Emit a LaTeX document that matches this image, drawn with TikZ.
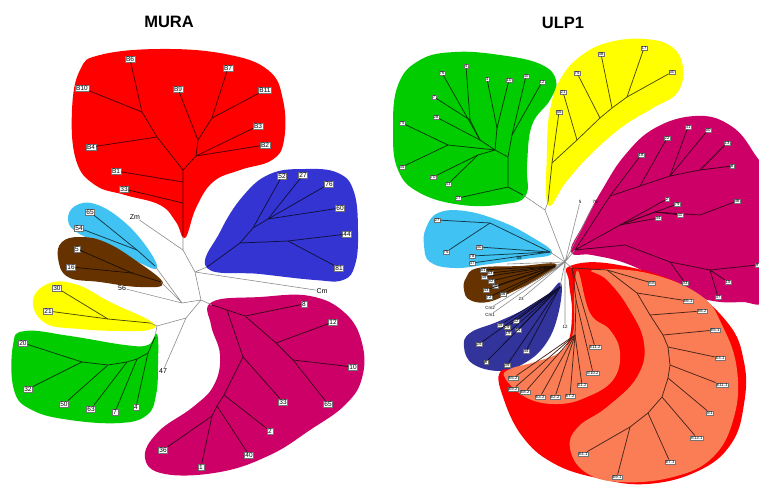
\documentclass[tikz,border=0pt]{standalone}
\usepackage{fontspec}
\setmainfont{Liberation Sans}
\usetikzlibrary{positioning}
\definecolor{cladered}{HTML}{FE0000}
\definecolor{cladeblue}{HTML}{3434D2}
\definecolor{cladenavy}{HTML}{33339C}
\definecolor{cladepink}{HTML}{CC0066}
\definecolor{cladecyan}{HTML}{40C2F2}
\definecolor{cladebrown}{HTML}{663300}
\definecolor{cladeyellow}{HTML}{FFFF00}
\definecolor{cladegreen}{HTML}{00CC00}
\definecolor{cladesalmon}{HTML}{FA7D55}

\begin{document}
\begin{tikzpicture}[x=1pt,y=-1pt,
  tag/.style={draw=black!55,line width=0.3pt,fill=white,inner sep=1pt,font=\fontsize{6.5}{6.5}\selectfont},
  microtag/.style={tag,inner sep=0.8pt,font=\fontsize{4.3}{4.3}\selectfont},
  txt/.style={inner sep=0.5pt,font=\fontsize{7}{7}\selectfont},
  microtxt/.style={inner sep=0.3pt,font=\fontsize{4.5}{4.5}\selectfont},
  br/.style={draw=#1!30!black,line width=0.75pt},
  stem/.style={draw=black!45,line width=0.6pt},
  ttl/.style={font=\bfseries\fontsize{16.5}{16.5}\selectfont}
]
\useasboundingbox (0,0) rectangle (759,484);
\clip (0,0) rectangle (759,484);

% titles
\node[ttl] (mura) at (169,22) {MURA};
\node[ttl] (ulp) at (563,23) {ULP1};

%% ---------------- MURA ----------------
% clades
\fill[cladered] plot[smooth cycle,tension=0.7] coordinates {(100,55) (160,49) (225,54) (268,70) (283,100) (284,140) (272,160) (240,170) (213,182) (196,208) (185,238) (176,222) (160,205) (125,195) (95,185) (76,160) (72,110) (80,70)};
\fill[cladeblue] plot[smooth cycle,tension=0.7] coordinates {(207,268) (220,232) (243,196) (270,174) (305,169) (338,173) (354,192) (358,232) (355,265) (343,280) (315,280) (260,274)};
\fill[cladecyan] plot[smooth cycle,tension=0.7] coordinates {(68,220) (75,206) (95,204) (122,220) (146,246) (157,268) (140,263) (108,246) (78,233)};
\fill[cladebrown] plot[smooth cycle,tension=0.7] coordinates {(58,258) (62,242) (80,237) (105,242) (135,260) (163,283) (140,287) (100,282) (68,277)};
\fill[cladeyellow] plot[smooth cycle,tension=0.7] coordinates {(33,300) (50,283) (78,285) (110,302) (152,322) (148,330) (120,331) (80,329) (45,323)};
\fill[cladegreen] plot[smooth cycle,tension=0.7] coordinates {(13,345) (25,331) (70,336) (125,345) (148,345) (157,334) (158,365) (156,395) (147,415) (120,423) (70,420) (32,410) (14,390)};
\fill[cladepink] plot[smooth cycle,tension=0.7] coordinates {(212,302) (260,297) (310,296) (345,313) (362,343) (362,378) (345,405) (310,430) (270,455) (220,472) (165,474) (145,458) (158,432) (193,407) (214,385) (220,355) (211,325)};

% inner nodes
\coordinate (r0) at (183,236); \coordinate (r1) at (183,203); \coordinate (r2) at (183,182);
\coordinate (r3) at (183,170); \coordinate (r4) at (157,137); \coordinate (r5) at (142,112);
\coordinate (r6) at (196,156); \coordinate (r7) at (198,140); \coordinate (r8) at (212,118);
\coordinate (b0) at (207,267); \coordinate (b1) at (240,243); \coordinate (b2) at (253,228);
\coordinate (b3) at (268,219); \coordinate (b4) at (288,241);
\coordinate (ct) at (155,266); \coordinate (cc1) at (137,250);
\coordinate (bt) at (161,282); \coordinate (bb1) at (132,273);
\coordinate (ytip) at (150,323); \coordinate (yy1) at (108,319);
\coordinate (g0) at (155,337); \coordinate (ga) at (148,353); \coordinate (gb) at (137,359);
\coordinate (gc) at (127,362); \coordinate (gd) at (108,365); \coordinate (ge) at (82,362);
\coordinate (p0) at (212,305); \coordinate (p1) at (227,310); \coordinate (p2) at (245,316);
\coordinate (p3) at (276,343); \coordinate (p4) at (293,360); \coordinate (p5) at (243,357);
\coordinate (p6) at (224,395); \coordinate (p7) at (217,406); \coordinate (p8) at (212,416);
\coordinate (c1) at (183,250); \coordinate (c2) at (195,272); \coordinate (c3) at (201,300);
\coordinate (c4) at (182,303); \coordinate (c5) at (186,318); \coordinate (gy) at (157,326);

% backbone
\node[txt] (zm) at (135,217) {Zm};
\node[txt] (cm) at (322,291) {Cm};
\node[txt] (n56) at (122,288) {56};
\node[txt] (n47) at (163,371) {47};
\draw[stem] (r0) -- (c1) -- (c2) -- (c3) -- (c5) -- (gy) -- (ytip)
  (c1) -- (zm) (c2) -- (b0) (c2) -- (cm) (c3) -- (p0) (c3) -- (c4) -- (ct)
  (c4) -- (bt) (c4) -- (n56) (c5) -- (n47) (gy) -- (g0);

% branches
\draw[br=cladered] (r0) -- (r1) -- (r2) -- (r3) -- (r4) -- (r5) (r3) -- (r6) -- (r7) -- (r8);
\draw[br=cladeblue] (b0) -- (b1) -- (b2) -- (b3) (b1) -- (b4);
\draw[br=cladecyan] (ct) -- (cc1);
\draw[br=cladebrown] (bt) -- (bb1);
\draw[br=cladeyellow] (ytip) -- (yy1);
\draw[br=cladegreen] (g0) -- (ga) -- (gb) -- (gc) -- (gd) -- (ge);
\draw[br=cladepink] (p0) -- (p1) -- (p2) -- (p3) -- (p4) (p1) -- (p5) -- (p6) -- (p7) -- (p8);

\foreach \t/\x/\y/\p [count=\i] in {B6/130/59/r5,B10/82/88/r5,B4/91/147/r4,B1/116/171/r2,33/124/189/r1,B9/178/89/r7,B7/228/68/r8,B11/265/90/r8,B3/258/126/r6,B2/265/145/r6}
  {\node[tag] (mr\i) at (\x,\y) {\t}; \draw[br=cladered] (\p) -- (mr\i);}
\foreach \t/\x/\y/\p [count=\i] in {52/282/176/b2,27/303/175/b3,76/329/184/b3,60/340/208/b3,44/347/234/b4,81/339/268/b4}
  {\node[tag] (mb\i) at (\x,\y) {\t}; \draw[br=cladeblue] (\p) -- (mb\i);}
\foreach \t/\x/\y/\p [count=\i] in {65/90/212/cc1,54/79/228/cc1}
  {\node[tag] (mc\i) at (\x,\y) {\t}; \draw[br=cladecyan] (\p) -- (mc\i);}
\foreach \t/\x/\y/\p [count=\i] in {5/77/249/bb1,16/71/267/bb1}
  {\node[tag] (mw\i) at (\x,\y) {\t}; \draw[br=cladebrown] (\p) -- (mw\i);}
\foreach \t/\x/\y/\p [count=\i] in {30/57/288/yy1,21/48/311/yy1}
  {\node[tag] (my\i) at (\x,\y) {\t}; \draw[br=cladeyellow] (\p) -- (my\i);}
\foreach \t/\x/\y/\p [count=\i] in {20/23/343/ge,32/28/389/ge,50/64/404/gd,63/91/409/gc,7/115/412/gb,4/136/407/ga}
  {\node[tag] (mg\i) at (\x,\y) {\t}; \draw[br=cladegreen] (\p) -- (mg\i);}
\foreach \t/\x/\y/\p [count=\i] in {8/304/304/p2,12/333/322/p3,10/353/367/p4,65/328/404/p4,33/283/402/p5,2/270/431/p6,40/249/455/p7,36/163/450/p8,1/201/467/p8}
  {\node[tag] (mp\i) at (\x,\y) {\t}; \draw[br=cladepink] (\p) -- (mp\i);}

%% ---------------- ULP1 ----------------
\fill[cladegreen] plot[smooth cycle,tension=0.7] coordinates {(398,85) (420,60) (455,52) (500,55) (540,64) (556,80) (550,100) (532,125) (527,165) (526,195) (505,204) (462,205) (420,193) (398,170) (393,130)};
\fill[cladeyellow] plot[smooth cycle,tension=0.7] coordinates {(548,205) (547,150) (550,110) (561,78) (582,55) (610,42) (645,39) (672,47) (683,68) (677,93) (653,108) (622,127) (590,155) (566,182)};
\fill[cladecyan] plot[smooth cycle,tension=0.7] coordinates {(426,228) (438,213) (465,211) (500,221) (530,236) (552,253) (525,259) (490,264) (455,268) (430,262) (424,245)};
\fill[cladebrown] plot[smooth cycle,tension=0.7] coordinates {(466,278) (478,268) (520,266) (556,264) (540,278) (512,292) (488,302) (470,300) (464,290)};
\fill[cladenavy] plot[smooth cycle,tension=0.7] coordinates {(561,283) (558,315) (545,345) (523,364) (500,371) (473,364) (464,347) (470,333) (497,322) (523,310) (547,295)};
\fill[cladepink] plot[smooth cycle,tension=0.7] coordinates {(571,252) (583,225) (602,190) (625,155) (655,128) (695,116) (728,124) (752,150) (768,190) (768,292) (740,302) (700,298) (662,280) (625,263) (592,255)};
\fill[cladered] plot[smooth cycle,tension=0.7] coordinates {(570,266) (613,264) (680,284) (727,322) (744,362) (744,404) (731,444) (698,471) (647,484) (597,478) (553,463) (522,436) (503,397) (500,372) (520,369) (550,362) (567,345) (572,313) (569,282)};
\fill[cladesalmon] plot[smooth cycle,tension=0.7] coordinates {(593,270) (647,273) (700,295) (723,327) (737,370) (734,417) (713,457) (673,477) (620,482) (585,472) (570,448) (578,427) (607,407) (637,377) (644,343) (628,307) (607,280)};
\fill[cladesalmon] plot[smooth cycle,tension=0.7] coordinates {(578,271) (590,313) (610,330) (620,353) (613,380) (587,397) (558,404) (527,398) (505,378) (510,369) (535,362) (560,352) (573,333) (574,297)};

\coordinate (u0) at (565,262); \coordinate (u1) at (545,210);
\coordinate (groot) at (523,195); \coordinate (ga1) at (508,187); \coordinate (ga2) at (508,157);
\coordinate (ga3) at (495,150); \coordinate (ub) at (497,128); \coordinate (uc) at (512,135);
\coordinate (ud) at (480,140); \coordinate (ue) at (470,120); \coordinate (uf) at (448,145);
\coordinate (ug) at (478,155);
\coordinate (ytip2) at (548,202); \coordinate (y0) at (552,163); \coordinate (y1) at (577,140);
\coordinate (y2) at (600,118); \coordinate (y3) at (612,108); \coordinate (y4) at (627,97);
\coordinate (ctip) at (550,252); \coordinate (ucc) at (490,223);
\coordinate (btip) at (555,266); \coordinate (ntip) at (560,287);
\coordinate (sr0) at (572,268); \coordinate (s1) at (607,270); \coordinate (s2) at (637,293);
\coordinate (s3) at (650,315); \coordinate (s4) at (663,335); \coordinate (s5) at (668,347);
\coordinate (s6) at (670,365); \coordinate (s7) at (668,378); \coordinate (s8) at (662,397);
\coordinate (s9) at (648,413); \coordinate (s10) at (630,427);
\coordinate (ir1) at (576,300); \coordinate (ir2) at (575,335);
\coordinate (pr0) at (575,250); \coordinate (pu1) at (610,196); \coordinate (pu2) at (640,186);
\coordinate (pu3) at (670,176); \coordinate (pu4) at (700,170); \coordinate (pm1) at (620,225);
\coordinate (pm2) at (655,212); \coordinate (pm3) at (700,215); \coordinate (pl1) at (625,245);
\coordinate (pl2) at (670,262); \coordinate (pl3) at (710,270);

% backbone
\node[microtxt] (t5) at (580,202) {5};
\node[microtxt] (t75) at (595,202) {75};
\node[microtxt] (t59) at (519,258) {59};
\coordinate (e59) at (507,264);
\node[microtxt] (tcm2) at (490,308) {Cm2};
\node[microtxt] (tcm1) at (490,315) {Cm1};
\node[microtxt] (t23) at (521,299) {23};
\node[microtxt] (t12) at (565,327) {12};
\draw[stem] (u0) -- (u1) -- (groot) (u1) -- (ytip2) (u0) -- (ctip) (u0) -- (btip) (u0) -- (ntip)
  (u0) -- (sr0) (u0) -- (pr0) (u0) -- (t5) (u0) -- (t75) (u0) -- (e59) (u0) -- (tcm2)
  (u0) -- (tcm1) (u0) -- (t23) (u0) -- (t12);

% branches
\draw[br=cladegreen] (groot) -- (ga1) -- (ga2) -- (ga3) -- (ud) -- (ue) (ga2) -- (uc) (ga3) -- (ub) (ga3) -- (uf) (ga3) -- (ug);
\draw[br=cladeyellow] (ytip2) -- (y0) -- (y1) -- (y2) -- (y3) -- (y4);
\draw[br=cladecyan] (ctip) -- (ucc);
\draw[br=cladesalmon] (sr0) -- (s1) -- (s2) -- (s3) -- (s4) -- (s5) -- (s6) -- (s7) -- (s8) -- (s9) -- (s10) (sr0) -- (ir1) -- (ir2);
\draw[br=cladepink] (pr0) -- (pu1) -- (pu2) -- (pu3) -- (pu4) (pr0) -- (pm1) -- (pm2) -- (pm3) (pr0) -- (pl1) -- (pl2) -- (pl3);

\foreach \t/\x/\y/\p [count=\i] in {76/442/73/ud,4/466/66/ue,7/434/97/ue,28/436/117/ud,75/402/123/uf,35/402/167/uf,70/433/177/ug,31/448/184/ug,27/458/198/ga1,3/487/79/ub,10/509/80/ub,40/526/76/uc,12/542/82/uc}
  {\node[microtag] (ug\i) at (\x,\y) {\t}; \draw[br=cladegreen] (\p) -- (ug\i);}
\foreach \t/\x/\y/\p [count=\i] in {55/559/112/y0,21/563/92/y1,75/577/73/y2,38/601/54/y3,17/644/48/y4,30/672/72/y4}
  {\node[microtag] (uy\i) at (\x,\y) {\t}; \draw[br=cladeyellow] (\p) -- (uy\i);}
\foreach \t/\x/\y/\p [count=\i] in {27/437/220/ucc,75/446/252/ucc,30/479/247/ctip,78/472/256/ctip,47/472/263/ctip}
  {\node[microtag] (uc\i) at (\x,\y) {\t}; \draw[br=cladecyan] (\p) -- (uc\i);}
\foreach \t/\x/\y [count=\i] in {61/483/270,63/490/273,49/484/277,52/491/281,55/495/286,43/486/290,72/489/297,56/503/294}
  {\node[microtag] (uw\i) at (\x,\y) {\t}; \draw[br=cladebrown] (btip) -- (uw\i);}
\foreach \t/\x/\y [count=\i] in {45/500/325,29/507/327,62/516/321,14/518/330,19/508/333,25/479/344,6/486/362,39/507/365,44/526/351}
  {\node[microtag] (un\i) at (\x,\y) {\t}; \draw[br=cladenavy] (ntip) -- (un\i);}
\foreach \t/\x/\y/\p [count=\i] in {E8/652/283/s1,E6.1/688/301/s2,E6.2/702/311/s3,E5.1/715/330/s4,E3.1/720/358/s5,E11.1/722/385/s6,E1/710/413/s7,E12.1/697/438/s8,E7.1/670/462/s9,E9.1/617/477/s10,E4.1/583/454/s10,E11.2/595/347/sr0,E10.2/593/373/ir1,E1.2/582/385/ir2,E7.2/570/396/ir2,E2.2/555/397/ir2,E3.2/540/397/ir2,E8.2/525/392/ir2,E9.2/513/389/ir2,E5.2/513/378/ir2}
  {\node[microtag] (us\i) at (\x,\y) {\t}; \draw[br=cladesalmon] (\p) -- (us\i);}
\foreach \t/\x/\y/\p [count=\i] in {18/641/155/pu1,22/667/138/pu2,41/688/127/pu3,60/708/130/pu3,13/727/143/pu4,8/732/166/pu4,2/667/199/pm1,79/677/204/pm1,34/658/218/pm1,11/680/215/pm2,46/737/201/pm3,33/685/283/pl2,15/728/282/pl3,37/718/297/pl3,9/757/265/pl3}
  {\node[microtag] (up\i) at (\x,\y) {\t}; \draw[br=cladepink] (\p) -- (up\i);}
\end{tikzpicture}
\end{document}
